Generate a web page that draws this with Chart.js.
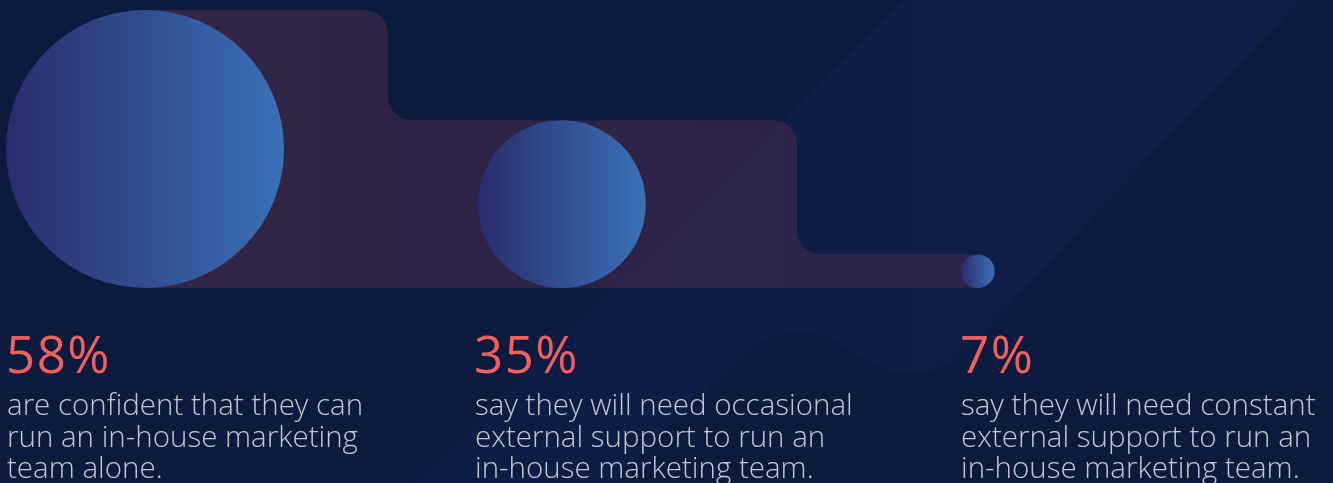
<!DOCTYPE html>
<html>
<head>
<meta charset="utf-8">
<title>In-house marketing team confidence</title>
<script src="https://cdn.jsdelivr.net/npm/chart.js@4/dist/chart.umd.min.js"></script>
<style>
  html, body { margin: 0; padding: 0; background: #0b1a3d; overflow: hidden; }
  #wrap { position: relative; width: 1333px; height: 483px; }
</style>
</head>
<body>
<div id="wrap"><canvas id="chart"></canvas></div>
<script>
// ---- data ----
const categories = ['Confident alone', 'Occasional external support', 'Constant external support'];
const shares = [58, 35, 7];
const shareLabels = shares.map(v => v + '%');
const descriptions = [
  ['are confident that they can', 'run an in-house marketing', 'team alone.'],
  ['say they will need occasional', 'external support to run an', 'in-house marketing team.'],
  ['say they will need constant', 'external support to run an', 'in-house marketing team.']
];

// ---- layout ----
const W = 1333, H = 483;
const PLOT_TOP = 10, PLOT_BOTTOM = 288;
const Y_MAX = Math.max(...shares);
const PX_PER_UNIT = (PLOT_BOTTOM - PLOT_TOP) / Y_MAX;   // same scale on both axes keeps circles round
const X_MAX = W / PX_PER_UNIT;
const columnLeftPx = [6, 478, 961];                     // left edge of each circle
const textLeftPx = [7, 475, 961];                       // left edge of each text block
const stepEdgePx = [388, 797];                          // right edge of the first two steps
const STEP_RADIUS = 24;

const toUnits = px => px / PX_PER_UNIT;
const circleCenters = shares.map((v, i) => toUnits(columnLeftPx[i]) + v / 2);

const COLORS = {
  bg: '#0b1a3d',
  percent: '#f0605e',
  text: '#c4c7d3',
  circleFrom: '#2a2c6e',
  circleTo: '#3a71b7'
};

// Background with the soft diagonal band
const backgroundPlugin = {
  id: 'background',
  beforeDraw(chart) {
    const ctx = chart.ctx;
    ctx.save();
    ctx.fillStyle = COLORS.bg;
    ctx.fillRect(0, 0, chart.width, chart.height);

    const g = ctx.createLinearGradient(450, 0, 1300, 0);
    g.addColorStop(0, '#0d1c44');
    g.addColorStop(1, '#0f1f49');
    ctx.fillStyle = g;
    ctx.beginPath();
    ctx.moveTo(905, 0);
    ctx.lineTo(1300, 0);
    ctx.lineTo(1022, 290);
    ctx.bezierCurveTo(985, 335, 950, 378, 905, 374);
    ctx.bezierCurveTo(860, 370, 840, 330, 800, 331);
    ctx.bezierCurveTo(770, 332, 752, 348, 735, 362);
    ctx.lineTo(612, 483);
    ctx.lineTo(412, 483);
    ctx.closePath();
    ctx.fill();
    ctx.restore();
  }
};

// Stepped backdrop linking the circles, one step per share
const stepsPlugin = {
  id: 'steps',
  beforeDatasetsDraw(chart) {
    const { ctx, scales: { x, y } } = chart;
    const base = y.getPixelForValue(0);
    const tops = shares.map(v => y.getPixelForValue(v));
    const edges = stepEdgePx.map(px => x.getPixelForValue(toUnits(px)));
    const x0 = x.getPixelForValue(circleCenters[0]);
    const xEnd = x.getPixelForValue(circleCenters[circleCenters.length - 1]);
    const R = STEP_RADIUS;

    ctx.save();
    const g = ctx.createLinearGradient(x0, 0, xEnd, 0);
    g.addColorStop(0, 'rgba(122,58,84,0.36)');
    g.addColorStop(1, 'rgba(110,52,88,0.30)');
    ctx.fillStyle = g;
    ctx.beginPath();
    ctx.moveTo(x0, base);
    ctx.lineTo(x0, tops[0]);
    for (let i = 0; i < edges.length; i++) {
      const nextX = i + 1 < edges.length ? edges[i + 1] : xEnd;
      ctx.arcTo(edges[i], tops[i], edges[i], tops[i + 1], R);
      ctx.arcTo(edges[i], tops[i + 1], nextX, tops[i + 1], R);
    }
    ctx.lineTo(xEnd, tops[tops.length - 1]);
    ctx.lineTo(xEnd, base);
    ctx.closePath();
    ctx.fill();
    ctx.restore();
  }
};

// Percentages and descriptions under each circle
const labelsPlugin = {
  id: 'labels',
  afterDraw(chart) {
    const ctx = chart.ctx;
    ctx.save();
    ctx.textAlign = 'left';
    ctx.textBaseline = 'alphabetic';
    shares.forEach((v, i) => {
      const left = textLeftPx[i];
      ctx.fillStyle = COLORS.percent;
      ctx.font = '400 51px "Open Sans"';
      if ('letterSpacing' in ctx) ctx.letterSpacing = '1.5px';
      ctx.fillText(shareLabels[i], left - 1, 373);
      ctx.fillStyle = COLORS.text;
      ctx.font = '300 29.5px "Open Sans"';
      if ('letterSpacing' in ctx) ctx.letterSpacing = '0px';
      descriptions[i].forEach((line, k) => {
        ctx.fillText(line, left, 415 + k * 31.5);
      });
    });
    ctx.restore();
  }
};

// radius of a share's circle in pixels, from the value scale
function circleRadius(chart, v) {
  const y = chart.scales.y;
  if (!y) return 0;
  const r = (y.getPixelForValue(0) - y.getPixelForValue(v)) / 2;
  return Number.isFinite(r) ? r : 0;
}

new Chart(document.getElementById('chart'), {
  type: 'scatter',
  data: {
    labels: categories,
    datasets: [{
      label: 'Share of respondents',
      data: shares.map((v, i) => ({ x: circleCenters[i], y: v / 2 })),
      showLine: false,
      clip: false,
      pointStyle: 'circle',
      pointBorderWidth: 0,
      pointHoverBorderWidth: 0,
      pointRadius: (c) => circleRadius(c.chart, shares[c.dataIndex] || 0),
      pointHoverRadius: (c) => circleRadius(c.chart, shares[c.dataIndex] || 0),
      pointBackgroundColor: (c) => {
        const x = c.chart.scales.x;
        if (!x || c.dataIndex === undefined) return COLORS.circleTo;
        const cx = x.getPixelForValue(circleCenters[c.dataIndex]);
        const r = circleRadius(c.chart, shares[c.dataIndex]);
        if (!Number.isFinite(cx) || !(r > 0)) return COLORS.circleTo;
        const g = c.chart.ctx.createLinearGradient(cx - r, 0, cx + r, 0);
        g.addColorStop(0, COLORS.circleFrom);
        g.addColorStop(1, COLORS.circleTo);
        return g;
      }
    }]
  },
  options: {
    responsive: true,
    maintainAspectRatio: false,
    animation: false,
    events: [],
    layout: { padding: { top: PLOT_TOP, bottom: H - PLOT_BOTTOM, left: 0, right: 0 } },
    scales: {
      x: { type: 'linear', min: 0, max: X_MAX, display: false },
      y: { type: 'linear', min: 0, max: Y_MAX, display: false }
    },
    plugins: {
      legend: { display: false },
      tooltip: { enabled: false },
      title: { display: false }
    }
  },
  plugins: [backgroundPlugin, stepsPlugin, labelsPlugin]
});
</script>
</body>
</html>
